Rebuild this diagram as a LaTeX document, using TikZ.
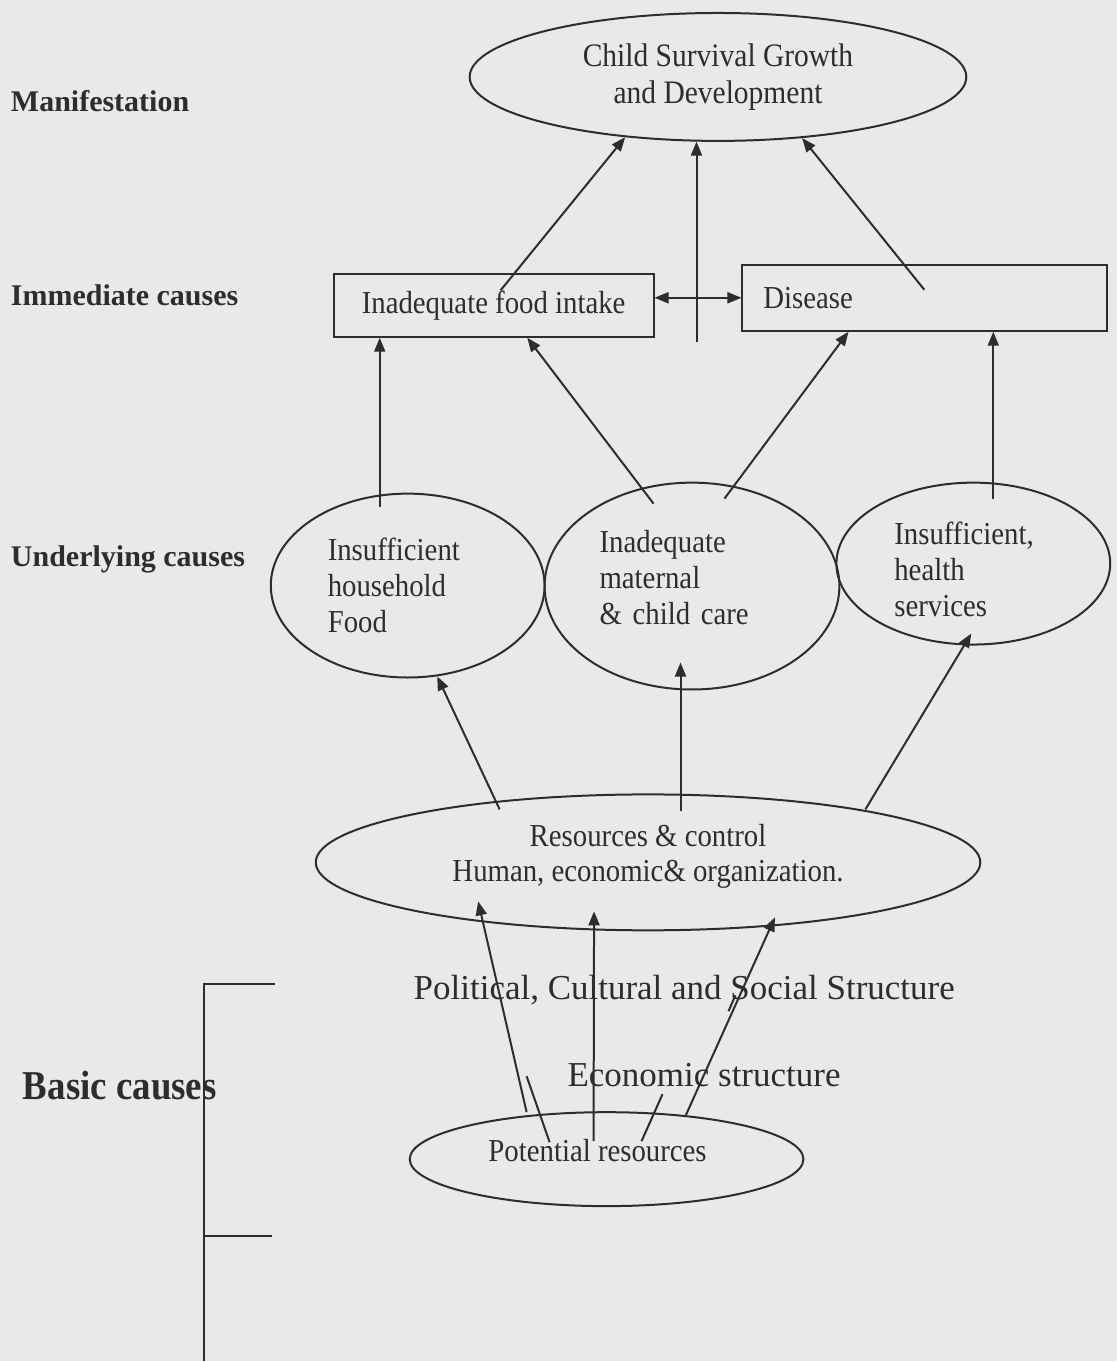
\documentclass[tikz,border=0pt]{standalone}
\usepackage{fontspec}
\setmainfont{Liberation Serif}
\newfontfamily\narrowserif{Liberation Serif}[FakeStretch=0.9]
\usetikzlibrary{arrows.meta,calc,positioning,shapes.geometric}
\definecolor{paper}{RGB}{233,233,233}
\definecolor{ink}{RGB}{45,45,45}

\begin{document}
\begin{tikzpicture}[x=0.5pt,y=-0.5pt,>={Triangle[length=7pt,width=5.5pt]},
  line width=1pt,color=ink,
  rowlabel/.style={anchor=base west,inner sep=0pt,font=\fontsize{15}{18}\selectfont\bfseries},
  oval/.style={draw,ellipse,inner sep=0pt,align=left,font=\narrowserif\fontsize{16}{18}\selectfont},
  causebox/.style={draw,rectangle,inner sep=0pt,font=\narrowserif\fontsize{16}{18}\selectfont},
  structtext/.style={anchor=base west,inner sep=0pt,font=\fontsize{17.5}{21}\selectfont}]
  \fill[paper] (0,0) rectangle (1118,1362);

  \node[rowlabel] (manif) at (10,112) {Manifestation};
  \node[rowlabel] (immed) at (10,306) {Immediate causes};
  \node[rowlabel] (under) at (10,567) {Underlying causes};
  \node[rowlabel,font=\narrowserif\fontsize{20.5}{24}\selectfont\bfseries] (basic) at (22,1100) {Basic causes};

  \node[oval,align=center,minimum width=248.5pt,minimum height=64pt,font=\narrowserif\fontsize{16.4}{18.5}\selectfont] (child) at (718.5,77) {Child Survival Growth\\and Development};

  \node[causebox,minimum width=160pt,minimum height=31.5pt] (food) at (494,305.5) {Inadequate food intake};
  \node[causebox,minimum width=182.5pt,minimum height=33pt,text width=161.5pt,align=left] (disease) at (925.5,298) {Disease};

  \node[oval,minimum width=137pt,minimum height=92pt,text width=80pt] (hhfood) at (408,586) {Insufficient\\household\\Food};
  \node[oval,minimum width=147.5pt,minimum height=103.5pt,text width=92.5pt] (care) at (692.5,586.5) {Inadequate\\maternal\\\& child care\rule[-9pt]{0pt}{1pt}};
  \node[oval,minimum width=137pt,minimum height=81pt,text width=79pt] (health) at (974,564) {\rule{0pt}{17pt}Insufficient,\\health\\services};

  \node[oval,align=center,minimum width=332.5pt,minimum height=68pt,font=\narrowserif\fontsize{16}{17.5}\selectfont] (resources) at (648.5,863) {Resources \& control\\Human, economic\& organization.\rule[-9pt]{0pt}{1pt}};

  \node[structtext] (polit) at (413,1000) {Political, Cultural and Social Structure};
  \node[structtext] (econ) at (567,1087) {Economic structure};

  \node[oval,minimum width=197pt,minimum height=47pt] (potential) at (607,1160) {Potential resources\hspace*{9pt}\rule[-9pt]{0pt}{1pt}};

  % immediate -> manifestation
  \coordinate (vbot) at (697,342);
  \draw[->] ($(food.center)+(7,-15)$) -- (child.213);
  \draw[->] (vbot) -- (vbot |- child.251);
  \draw[->] ($(disease.center)+(-0.5,-8)$) -- (child.324);
  \draw[<->] (food.east |- disease.west) -- (disease.west);

  % underlying -> immediate
  \coordinate (hhtop) at ($(hhfood.north)+(-28,14)$);
  \coordinate (hstop) at ($(health.north)+(20,17)$);
  \draw[->] (hhtop) -- (hhtop |- food.south);
  \draw[->] ($(care.north)+(-38.5,22)$) -- (food.316);
  \draw[->] ($(care.north)+(32.5,17)$) -- (disease.204);
  \draw[->] (hstop) -- (hstop |- disease.south);

  % resources -> underlying
  \coordinate (mres) at ($(resources.center)+(32.5,-51)$);
  \draw[->] ($(resources.center)+(-148.5,-53)$) -- (hhfood.288);
  \draw[->] (mres) -- ($(mres |- care.south)+(0,-28)$);
  \draw[->] ($(resources.center)+(217.5,-53)$) -- ($(health.south)+(-2,-12)$);

  % basic -> resources
  \draw[->] ($(potential.center)+(-80,-47)$) -- ($(resources.center)+(-170,39)$);
  \draw ($(potential.center)+(-57,-17)$) -- ($(potential.center)+(-80,-83)$);
  \draw[->] ($(potential.center)+(-13,-18)$) -- ($(resources.center)+(-54,49)$);
  \draw[->] (potential.29) -- ($(resources.center)+(127,55)$);
  \draw ($(potential.center)+(56,-65)$) -- ($(potential.center)+(35,-18)$);
  \draw ($(potential.center)+(122,-148)$) -- ($(potential.center)+(129,-164)$);

  % bracket
  \draw (275,985) -- (204,985) -- (204,1362);
  \draw (204,1237) -- (272,1237);
\end{tikzpicture}
\end{document}
